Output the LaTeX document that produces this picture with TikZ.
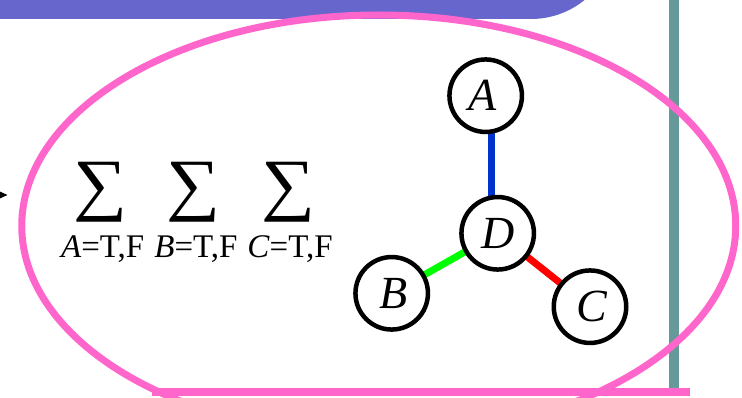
\documentclass[tikz,border=0pt]{standalone}
\usepackage{fontspec}
\setmainfont{Liberation Serif}
\usetikzlibrary{arrows.meta}
\definecolor{barpurple}{HTML}{6666CC}
\definecolor{ringpink}{HTML}{FF66CC}
\definecolor{tealline}{HTML}{669999}
\definecolor{edgeblue}{RGB}{0,51,204}
\definecolor{edgegreen}{HTML}{00FF00}
\definecolor{edgered}{HTML}{FF0000}
\tikzset{
  varnode/.style={circle,draw=black,line width=4.5pt,fill=white,minimum size=72.5pt,inner sep=0pt,
    font=\fontsize{46}{46}\selectfont\itshape},
  edgeline/.style={line width=7pt},
  sigmanode/.style={inner sep=0pt},
  sublabel/.style={inner sep=0pt,anchor=base,font=\fontsize{33}{33}\selectfont},
}
\begin{document}
\begin{tikzpicture}[x=1pt,y=-1pt]
\useasboundingbox (0,0) rectangle (742,398);
\clip (0,0) rectangle (742,398);
% purple title bar
\fill[barpurple,rounded corners=85pt] (-200,-200) rectangle (616,19);
% teal vertical line
\coordinate (tealtop) at (674,-5);
\coordinate (tealbot) at (674,392);
\draw[tealline,line width=10pt] (tealtop) -- (tealbot);
% pink ellipse
\draw[ringpink,line width=7pt] (378.75,225.8) ellipse [x radius=357, y radius=210.8];
% pink horizontal line
\coordinate (hl1) at (152,392);
\coordinate (hl2) at (690,392);
\draw[ringpink,line width=8pt] (hl1) -- (hl2);
% arrow tip at left
\coordinate (arrS) at (-30,195);
\coordinate (arrE) at (7.5,195);
\draw[line width=1pt,-{Triangle[length=8pt,width=7pt]}] (arrS) -- (arrE);
% sums
\node[sigmanode] (s1) at (100.5,192) {\resizebox*{54pt}{60pt}{∑}};
\node[sigmanode] (s2) at (193.5,192) {\resizebox*{54pt}{60pt}{∑}};
\node[sigmanode] (s3) at (288.5,192) {\resizebox*{54pt}{60pt}{∑}};
\node[sublabel] (l1) at (102.7,258) {\textit{A}=T,F};
\node[sublabel] (l2) at (196,258) {\textit{B}=T,F};
\node[sublabel] (l3) at (290,258) {\textit{C}=T,F};
% graph nodes
\coordinate (pA) at (485.7,95.7);
\coordinate (pD) at (497.7,233.3);
\coordinate (pB) at (391.7,293.3);
\coordinate (pC) at (590,306.7);
\draw[edgeline,edgeblue] ([xshift=5.3pt]pA) -- ([xshift=-6.7pt]pD);
\draw[edgeline,edgegreen] (pB) -- (pD);
\draw[edgeline,edgered] (pD) -- (pC);
\node[varnode] (A) at (pA) {\raisebox{-2pt}{\kern-6pt A}};
\node[varnode] (D) at (pD) {\raisebox{-5pt}{D}};
\node[varnode] (B) at (pB) {\raisebox{-2pt}{\kern4pt B}};
\node[varnode] (C) at (pC) {\raisebox{-3pt}{\kern3pt C}};
\end{tikzpicture}
\end{document}
